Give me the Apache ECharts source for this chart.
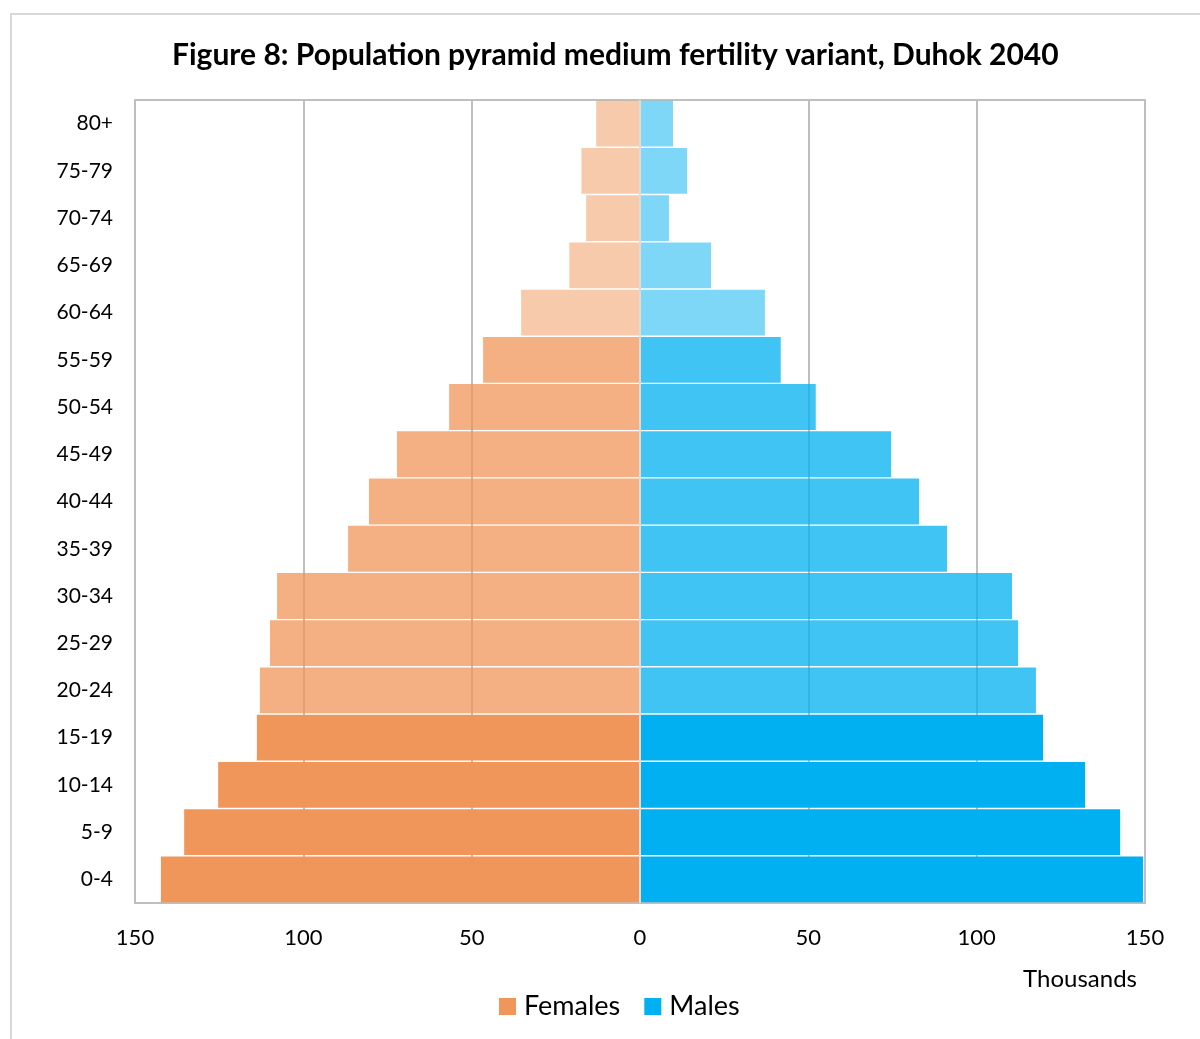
<!DOCTYPE html>
<html>
<head>
<meta charset="utf-8">
<script src="https://cdn.jsdelivr.net/npm/echarts@6/dist/echarts.min.js"></script>
<style>
html,body{margin:0;padding:0;background:#fff;overflow:hidden;}
#frame{position:absolute;left:10px;top:13px;width:1210px;height:1100px;border:2px solid #D9D9D9;box-sizing:border-box;}
#chart{position:absolute;left:0;top:0;width:1200px;height:1039px;}
</style>
</head>
<body>
<div id="frame"></div>
<div id="chart"></div>
<script>
const ageGroups = ['0-4','5-9','10-14','15-19','20-24','25-29','30-34','35-39','40-44','45-49','50-54','55-59','60-64','65-69','70-74','75-79','80+'];
const females = [142.3,135.4,125.3,113.8,112.9,109.9,107.8,86.7,80.5,72.2,56.7,46.6,35.3,21.0,16.0,17.4,13.0];
const males = [149.4,142.6,132.2,119.7,117.6,112.3,110.5,91.2,82.9,74.6,52.2,41.8,37.1,21.1,8.6,14.0,9.8];
const xTicks = [-150,-100,-50,0,50,100,150];

const femaleColor = '#F0965A';
const maleColor = '#00B0F0';
const FONT = 'Lato';

function shade(i){ return i <= 3 ? 1 : (i <= 11 ? 0.75 : 0.5); }

const chart = echarts.init(document.getElementById('chart'));
chart.setOption({
  animation: false,
  title: [{
    text: 'Figure 8: Population pyramid medium fertility variant, Duhok 2040',
    left: 167, top: 35,
    textStyle: {fontFamily: FONT, fontWeight: 'bold', fontSize: 30, color: '#000'}
  },{
    text: 'Thousands',
    right: 58, top: 962,
    textStyle: {fontFamily: FONT, fontWeight: 'normal', fontSize: 24, color: '#000'}
  }],
  legend: {
    data: ['Females','Males'],
    top: 988, left: 494,
    icon: 'rect', itemWidth: 17, itemHeight: 17, itemGap: 24,
    textStyle: {fontFamily: FONT, fontSize: 27, color: '#000', padding: [0,0,0,3]}
  },
  grid: {left: 135, right: 55, top: 100, bottom: 136, show: true, borderColor: '#BFBFBF', borderWidth: 2, containLabel: false},
  xAxis: {
    type: 'value', min: -150, max: 150, interval: 50,
    axisLine: {show: false}, axisTick: {show: false},
    splitLine: {show: true, lineStyle: {color: '#BFBFBF', width: 2}},
    axisLabel: {fontFamily: FONT, fontSize: 22, color: '#000', margin: 24,
      formatter: v => xTicks.indexOf(v) >= 0 ? String(Math.abs(v)) : ''}
  },
  yAxis: {
    type: 'category', data: ageGroups,
    axisLine: {show: false}, axisTick: {show: false},
    axisLabel: {fontFamily: FONT, fontSize: 21, color: '#000', margin: 22}
  },
  series: [{
    name: 'Females', type: 'bar', barGap: '-100%', barCategoryGap: '3%',
    itemStyle: {color: femaleColor},
    data: females.map((v,i) => ({value: -v, itemStyle: {opacity: shade(i)}})),
    markLine: {silent: true, symbol: 'none', label: {show: false},
      lineStyle: {color: '#E3DAD3', width: 2, type: 'solid'}, data: [{xAxis: 0}]}
  },{
    name: 'Males', type: 'bar', barCategoryGap: '3%',
    itemStyle: {color: maleColor},
    data: males.map((v,i) => ({value: v, itemStyle: {opacity: shade(i)}}))
  }]
});
</script>
</body>
</html>
